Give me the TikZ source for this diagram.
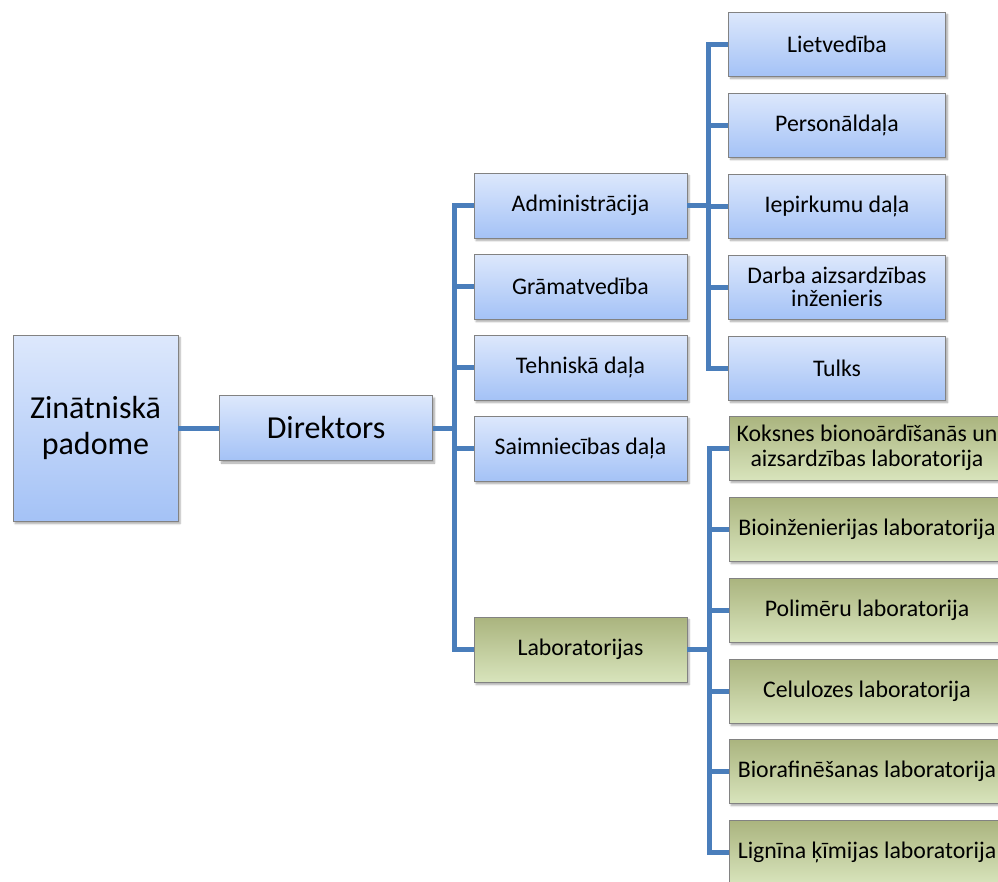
\documentclass[tikz,border=0pt]{standalone}
\usepackage{fontspec}
\setmainfont{Carlito}
\usetikzlibrary{shadows.blur}
\definecolor{btop}{RGB}{221,232,252}
\definecolor{bbot}{RGB}{164,194,246}
\definecolor{gtop}{RGB}{170,180,126}
\definecolor{gbot}{RGB}{216,228,188}
\definecolor{conncol}{RGB}{74,126,187}
\definecolor{bordercol}{RGB}{130,130,130}
\tikzset{
  bbox/.style={draw=bordercol, line width=0.7pt, top color=btop, bottom color=bbot,
    inner sep=0pt, align=center, font=\fontsize{23.8}{24}\selectfont,
    blur shadow={shadow xshift=2pt, shadow yshift=-2.5pt, shadow blur steps=5, shadow opacity=35}},
  gbox/.style={bbox, top color=gtop, bottom color=gbot},
  bigtext/.style={font=\fontsize{32}{36}\selectfont},
  conn/.style={draw=conncol, line width=5pt}
}
\begin{document}
\begin{tikzpicture}[x=1pt,y=-1pt]
\clip (0,0) rectangle (998,881);
\useasboundingbox (0,0) rectangle (998,881);
% nodes
\node[bbox, bigtext, minimum width=165pt, minimum height=186pt] (zp) at (95.5,428) {Zinātniskā\\padome};
\node[bbox, bigtext, minimum width=213pt, minimum height=65pt] (dir) at (326,428) {Direktors};
\foreach \n/\y/\t in {adm/205.5/Administrācija, gram/286.5/Grāmatvedība, teh/367.5/Tehniskā daļa, saim/448.5/Saimniecības daļa}{
  \node[bbox, minimum width=213pt, minimum height=65pt] (\n) at (580.5,\y) {\t};
}
\node[gbox, minimum width=213pt, minimum height=65pt] (lab) at (580.5,649.5) {Laboratorijas};
\node[bbox, minimum width=217pt, minimum height=64pt] (liet) at (837,44) {Lietvedība};
\node[bbox, minimum width=217pt, minimum height=64pt] (pers) at (837,125) {Personāldaļa};
\node[bbox, minimum width=217pt, minimum height=64pt] (iep) at (837,206) {Iepirkumu daļa};
\node[bbox, minimum width=217pt, minimum height=64pt, font=\fontsize{23.8}{23}\selectfont] (darba) at (837,287) {Darba aizsardzības\\inženieris};
\node[bbox, minimum width=217pt, minimum height=64pt] (tulks) at (837,368) {Tulks};
\node[gbox, minimum width=276pt, minimum height=64pt, font=\fontsize{23.8}{25}\selectfont] (kok) at (867,448) {Koksnes bionoārdīšanās un\\aizsardzības laboratorija};
\node[gbox, minimum width=276pt, minimum height=64pt] (bioi) at (867,529) {Bioinženierijas laboratorija};
\node[gbox, minimum width=276pt, minimum height=64pt] (pol) at (867,610) {Polimēru laboratorija};
\node[gbox, minimum width=276pt, minimum height=64pt] (cel) at (867,691) {Celulozes laboratorija};
\node[gbox, minimum width=276pt, minimum height=64pt] (biof) at (867,771) {Biorafinēšanas laboratorija};
\node[gbox, minimum width=276pt, minimum height=64pt] (lig) at (867,852) {Lignīna ķīmijas laboratorija};
% bus coordinates
\coordinate (b1) at (454,428);
\coordinate (b2) at (708,205.5);
\coordinate (b3) at (709,649.5);
% connectors
\draw[conn] (zp.east) -- (dir.west);
\draw[conn] (dir.east) -- (b1);
\draw[conn] (adm.west) -| (b1) |- (lab.west);
\draw[conn] (gram.west -| b1) -- (gram.west);
\draw[conn] (teh.west -| b1) -- (teh.west);
\draw[conn] (saim.west -| b1) -- (saim.west);
\draw[conn] (adm.east) -- (b2);
\draw[conn] (liet.west) -| (b2) |- (tulks.west);
\draw[conn] (pers.west -| b2) -- (pers.west);
\draw[conn] (iep.west -| b2) -- (iep.west);
\draw[conn] (darba.west -| b2) -- (darba.west);
\draw[conn] (lab.east) -- (b3);
\draw[conn] (kok.west) -| (b3) |- (lig.west);
\draw[conn] (bioi.west -| b3) -- (bioi.west);
\draw[conn] (pol.west -| b3) -- (pol.west);
\draw[conn] (cel.west -| b3) -- (cel.west);
\draw[conn] (biof.west -| b3) -- (biof.west);
\end{tikzpicture}
\end{document}
